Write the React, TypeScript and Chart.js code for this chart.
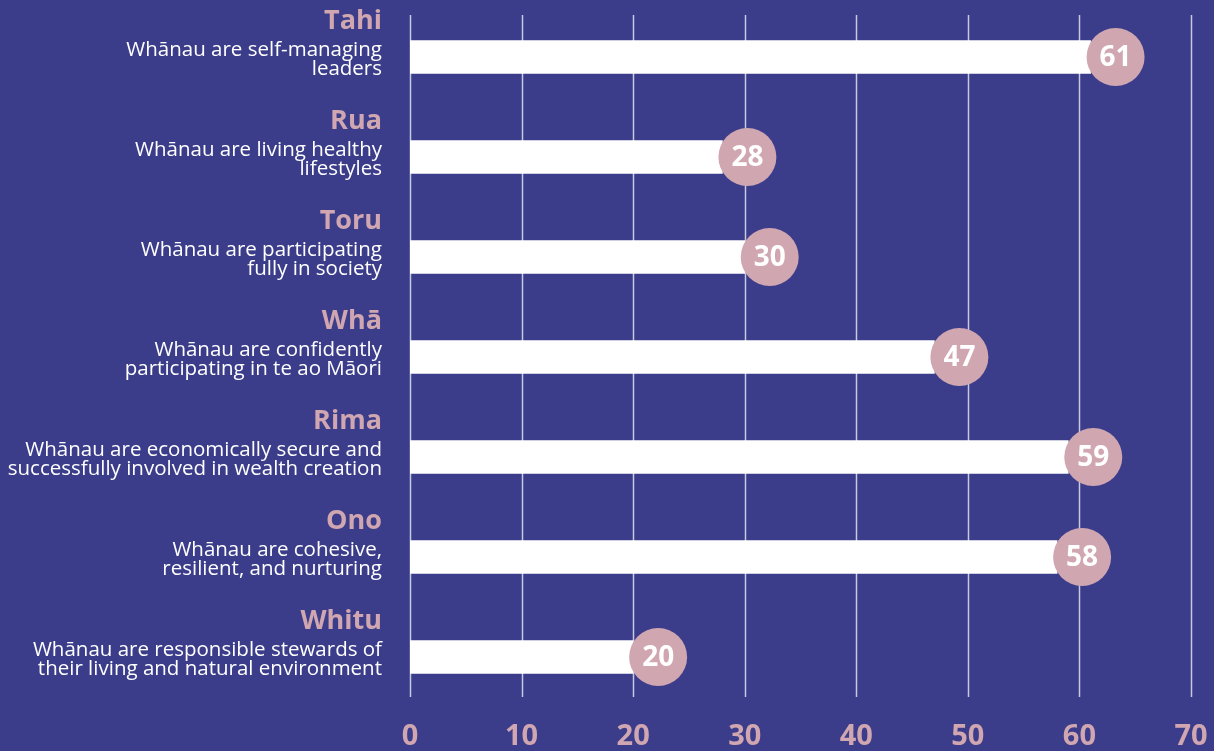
import { useEffect, useRef } from 'react';
import { Chart, registerables } from 'chart.js';

Chart.register(...registerables);

const categories = ['Tahi', 'Rua', 'Toru', 'Whā', 'Rima', 'Ono', 'Whitu'];
const descriptions = [
  ['Whānau are self-managing', 'leaders'],
  ['Whānau are living healthy', 'lifestyles'],
  ['Whānau are participating', 'fully in society'],
  ['Whānau are confidently', 'participating in te ao Māori'],
  ['Whānau are economically secure and', 'successfully involved in wealth creation'],
  ['Whānau are cohesive,', 'resilient, and nurturing'],
  ['Whānau are responsible stewards of', 'their living and natural environment'],
];
const values = [61, 28, 30, 47, 59, 58, 20];
const xTicks = [0, 10, 20, 30, 40, 50, 60, 70];

const BG = '#3b3d8b';
const PINK = '#d0a6b1';
const FONT = "'Open Sans', sans-serif";

export default function App() {
  const ref = useRef<HTMLCanvasElement>(null);
  useEffect(() => {
    document.body.style.margin = '0';
    document.body.style.background = BG;
    const canvas = ref.current!;
    const bgPlugin = {
      id: 'bg',
      beforeDraw(chart: any) {
        const c = chart.ctx;
        c.save();
        c.fillStyle = BG;
        c.fillRect(0, 0, chart.width, chart.height);
        c.restore();
      },
    };
    const gridPlugin = {
      id: 'grid',
      beforeDatasetsDraw(chart: any) {
        const c = chart.ctx;
        const xs = chart.scales.x;
        const a = chart.chartArea;
        c.save();
        c.strokeStyle = 'rgba(225,225,240,0.85)';
        c.lineWidth = 1.5;
        xTicks.forEach((t) => {
          const x = Math.round(xs.getPixelForValue(t)) + 0.5;
          c.beginPath();
          c.moveTo(x, a.top + 8);
          c.lineTo(x, a.bottom - 10);
          c.stroke();
        });
        c.restore();
      },
    };
    const markPlugin = {
      id: 'marks',
      afterDatasetsDraw(chart: any) {
        const c = chart.ctx;
        const meta = chart.getDatasetMeta(0);
        c.save();
        meta.data.forEach((bar: any, i: number) => {
          const cx = bar.x + 25;
          const cy = bar.y;
          c.fillStyle = PINK;
          c.beginPath();
          c.arc(cx, cy, 29, 0, Math.PI * 2);
          c.fill();
          c.fillStyle = '#ffffff';
          c.font = `bold 28px ${FONT}`;
          c.textAlign = 'center';
          c.textBaseline = 'middle';
          c.fillText(String(values[i]), cx, cy + 1);
        });
        c.restore();
      },
      afterDraw(chart: any) {
        const c = chart.ctx;
        const ys = chart.scales.y;
        const right = chart.chartArea.left - 28;
        c.save();
        c.textAlign = 'right';
        c.textBaseline = 'alphabetic';
        categories.forEach((name, i) => {
          const y = ys.getPixelForValue(i);
          c.fillStyle = PINK;
          c.font = `bold 27px ${FONT}`;
          c.fillText(name, right, y - 28);
          c.fillStyle = '#ffffff';
          c.font = `20.5px ${FONT}`;
          c.fillText(descriptions[i][0], right, y - 1);
          c.fillText(descriptions[i][1], right, y + 18);
        });
        c.restore();
      },
    };
    const chart = new Chart(canvas, {
      type: 'bar',
      data: {
        labels: categories,
        datasets: [
          {
            data: values,
            backgroundColor: '#ffffff',
            borderWidth: 0,
            barThickness: 33,
          },
        ],
      },
      options: {
        indexAxis: 'y',
        responsive: false,
        animation: false,
        layout: { padding: { left: 410, right: 23, top: 7, bottom: 0 } },
        plugins: { legend: { display: false }, tooltip: { enabled: false } },
        scales: {
          x: {
            type: 'linear',
            min: 0,
            max: 70,
            afterBuildTicks: (s: any) => {
              s.ticks = xTicks.map((v) => ({ value: v }));
            },
            afterFit: (s: any) => {
              s.height = 44;
              s.paddingLeft = 0;
              s.paddingRight = 0;
            },
            grid: { display: false, drawTicks: false },
            border: { display: false },
            ticks: {
              color: PINK,
              font: { family: FONT, size: 29, weight: 'bold' },
              padding: 12,
              maxRotation: 0,
            },
          },
          y: { type: 'category', display: false },
        },
      },
      plugins: [bgPlugin, gridPlugin, markPlugin],
    });
    return () => chart.destroy();
  }, []);
  return <canvas ref={ref} width={1214} height={751} style={{ display: 'block' }} />;
}
